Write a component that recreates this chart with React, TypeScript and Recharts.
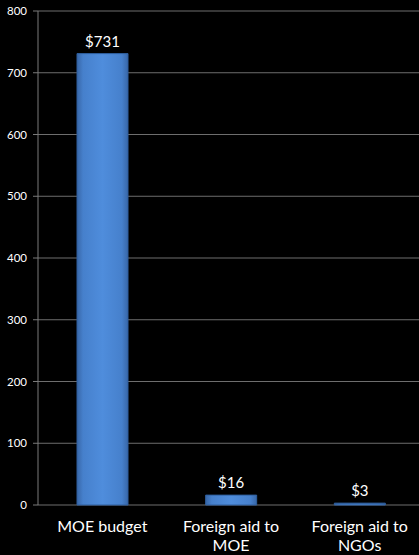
import React from 'react';
import { BarChart, Bar, XAxis, YAxis, CartesianGrid, LabelList, Text } from 'recharts';

const categories = ['MOE budget', 'Foreign aid to MOE', 'Foreign aid to NGOs'];
const values = [731, 16, 3];
const valueLabels = ['$731', '$16', '$3'];
const yTicks = [0, 100, 200, 300, 400, 500, 600, 700, 800];
const edgeTicks = [0, 1, 2, 3];

const data = categories.map((c, i) => ({ name: c, value: values[i], label: valueLabels[i], idx: i + 0.5 }));

const FONT = 'Lato, "Open Sans", sans-serif';

const CatTick = (props: any) => {
  const { x, y, payload } = props;
  return (
    <Text x={x} y={y + 8} width={118} textAnchor="middle" verticalAnchor="start" fill="#ffffff" fontSize={16} fontFamily={FONT} lineHeight={19}>
      {payload.value}
    </Text>
  );
};

export default function App() {
  return (
    <div style={{ position: 'fixed', left: 0, top: 0, width: 419, height: 555, background: '#000', overflow: 'hidden' }}>
      <BarChart width={424} height={555} data={data} margin={{ top: 11, right: 0, bottom: 0, left: 0 }}>
        <defs>
          <linearGradient id="barGrad" x1="0" y1="0" x2="1" y2="0">
            <stop offset="0" stopColor="#3867a8" />
            <stop offset="0.12" stopColor="#4680cc" />
            <stop offset="0.5" stopColor="#4f8ddc" />
            <stop offset="0.88" stopColor="#4680cc" />
            <stop offset="1" stopColor="#3867a8" />
          </linearGradient>
        </defs>
        <CartesianGrid vertical={false} stroke="#6e6e6e" strokeWidth={1} />
        <XAxis
          xAxisId="edges"
          type="number"
          dataKey="idx"
          domain={[0, 3]}
          ticks={edgeTicks}
          height={0}
          tick={false}
          tickLine={{ stroke: '#7a7a7a' }}
          tickSize={5}
          axisLine={{ stroke: '#7a7a7a' }}
        />
        <XAxis
          dataKey="name"
          height={50}
          tickLine={false}
          axisLine={false}
          interval={0}
          tick={<CatTick />}
        />
        <YAxis
          domain={[0, 800]}
          ticks={yTicks}
          width={38}
          tickSize={5}
          tickMargin={6}
          tickLine={{ stroke: '#7a7a7a' }}
          axisLine={{ stroke: '#7a7a7a' }}
          tick={{ fill: '#ffffff', fontSize: 11.5, fontFamily: FONT }}
          interval={0}
        />
        <Bar dataKey="value" fill="url(#barGrad)" stroke="#2f5f9f" strokeWidth={1} barSize={51} isAnimationActive={false}>
          <LabelList dataKey="label" position="top" offset={7} fill="#ffffff" fontSize={15} fontFamily={FONT} />
        </Bar>
      </BarChart>
    </div>
  );
}
